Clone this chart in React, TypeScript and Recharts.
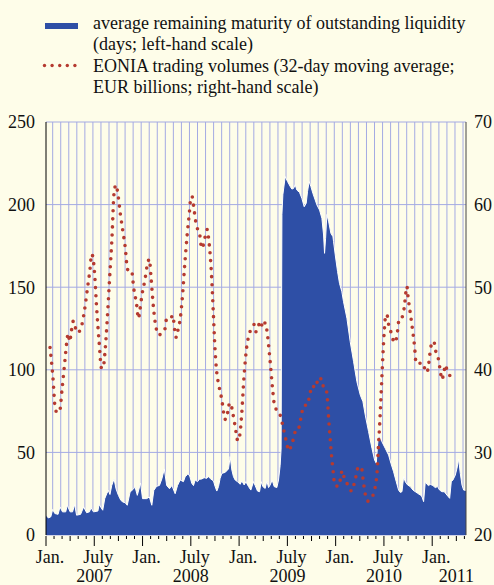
import { ComposedChart, Area, Line, XAxis, YAxis, CartesianGrid } from "recharts";

const W = 494;
const H = 585;
const X_MIN = 0;
const X_MAX = 52.2;
const BG = "#FEFDE9";
const GRID = "#A4AAE3";
const BLUE = "#2E4FA6";
const RED = "#B53A30";
const FONT = '"Liberation Serif", "Times New Roman", serif';

// months since 1 Jan 2007 -> average remaining maturity (days, left scale)
const maturity: [number, number][] = [
  [0, 12], [0.3, 10.3], [0.6, 11], [0.83, 15.5], [1.1, 13], [1.5, 12.5], [1.74, 17], [2.05, 14],
  [2.45, 14], [2.65, 18], [3.0, 14], [3.3, 14], [3.57, 18.5], [3.8, 12], [4.3, 12.5], [4.68, 17],
  [5.05, 13.5], [5.4, 14], [5.6, 16.5], [5.9, 14], [6.45, 14.5], [6.6, 18.5], [7.05, 15], [7.3, 22],
  [7.55, 25], [7.75, 27], [7.95, 24.5], [8.17, 30], [8.46, 34], [8.7, 28], [9.0, 24], [9.3, 21],
  [9.55, 20], [9.85, 19.5], [10.1, 18], [10.45, 26], [10.8, 27.5], [11.07, 29], [11.35, 24],
  [11.75, 31.5], [12.0, 22], [12.5, 22], [12.85, 23], [13.15, 18], [13.4, 27], [13.75, 29.5],
  [14.1, 30], [14.4, 34], [14.7, 40], [15.0, 30], [15.35, 28], [15.65, 30], [16.05, 25], [16.35, 30],
  [16.67, 33.3], [17.08, 32.3], [17.3, 35.3], [17.6, 36.7], [17.83, 36.3], [18.12, 31.3],
  [18.33, 29.9], [18.54, 33.3], [18.83, 32.3], [19.07, 33.7], [19.36, 33.9], [19.65, 34.7],
  [19.99, 34.3], [20.19, 35.3], [20.48, 33.9], [20.82, 32.7], [21.02, 29.3], [21.23, 26.6],
  [21.44, 29.3], [21.64, 34.3], [21.85, 37.3], [22.27, 37.9], [22.68, 40], [22.89, 47.5],
  [23.1, 39.3], [23.3, 35.3], [23.51, 33.3], [23.8, 32.3], [24.13, 30.7], [24.34, 32.7],
  [24.63, 30.3], [24.84, 32.3], [25.17, 29.3], [25.46, 27.2], [25.79, 32.3], [26.0, 29.9],
  [26.29, 26.6], [26.54, 26.2], [26.74, 32.3], [26.95, 29.3], [27.24, 28.2], [27.45, 32.7],
  [27.66, 28.7], [27.86, 30.3], [28.11, 33.3], [28.36, 29.3], [28.69, 28.7], [28.9, 33.3],
  [29.1, 42], [29.22, 52], [29.32, 194], [29.44, 206], [29.73, 217], [30.02, 214], [30.35, 211],
  [30.56, 209.4], [30.77, 209.8], [30.97, 212], [31.18, 208.8], [31.51, 207.4], [31.8, 203.8],
  [32.09, 198.7], [32.34, 200.8], [32.5, 207.8], [32.71, 214], [32.92, 211], [33.17, 206.8],
  [33.46, 202.8], [33.67, 199.8], [34.0, 196.7], [34.29, 191.7], [34.5, 181.6], [34.62, 170.5],
  [34.75, 179.6], [34.91, 194], [35.12, 190], [35.41, 182.6], [35.66, 180.6], [35.74, 177.6],
  [35.95, 169.5], [36.24, 159.4], [36.48, 152.3], [36.77, 147.3], [36.98, 141.2], [37.4, 131.2],
  [37.81, 117], [38.23, 104.9], [38.64, 92.8], [39.06, 84.7], [39.39, 80.7], [39.68, 72.6],
  [40.09, 62.6], [40.51, 52.5], [40.84, 45.4], [41.05, 43.4], [41.21, 54.5], [41.34, 60.5],
  [41.75, 56.5], [42.16, 52.5], [42.58, 48.4], [42.87, 43.4], [43.2, 38.3], [43.53, 32.3],
  [43.82, 27.2], [44.03, 25.8], [44.24, 26.2], [44.45, 35.3], [44.65, 32.3], [44.94, 30.3],
  [45.27, 29.3], [45.61, 27.2], [45.9, 26.2], [46.19, 25.2], [46.52, 24.2], [46.73, 23.2],
  [46.93, 20.2], [47.14, 32.3], [47.35, 30.7], [47.55, 29.9], [47.76, 30.7], [48.09, 29.9],
  [48.38, 28.7], [48.67, 29.3], [48.92, 27.2], [49.21, 26.2], [49.5, 26.2], [49.83, 24.2],
  [50.17, 22.2], [50.37, 32.3], [50.58, 33.3], [50.87, 36.3], [51.08, 40.4], [51.29, 46],
  [51.49, 37.3], [51.7, 30.3], [51.91, 27.2], [52.2, 27],
];

// months since 1 Jan 2007 -> EONIA trading volumes (EUR bn, right scale)
const eonia: [number, number][] = [
  [0.5, 42.7], [0.85, 39.2], [1.15, 35.3], [1.4, 34.8], [1.7, 35.0], [2.0, 37.7], [2.3, 40.6],
  [2.6, 43.5], [2.75, 44.4], [2.95, 43.4], [3.1, 44.3], [3.4, 45.9], [3.6, 45.3], [3.85, 44.5],
  [4.1, 44.6], [4.45, 45.4], [4.8, 47.3], [5.2, 50.2], [5.45, 52.0], [5.68, 54.0], [5.85, 53.5],
  [6.05, 51.5], [6.3, 47.4], [6.6, 43.4], [6.9, 40.2], [7.1, 40.2], [7.3, 41.8], [7.6, 45.9],
  [7.9, 51.0], [8.2, 56.0], [8.45, 61.3], [8.7, 62.4], [8.9, 61.5], [9.25, 58.8], [9.55, 56.8],
  [9.85, 54.8], [10.1, 52.3], [10.3, 51.9], [10.65, 51.9], [10.9, 49.9], [11.25, 48.0],
  [11.5, 46.2], [11.65, 47.1], [11.95, 49.2], [12.3, 50.9], [12.55, 52.5], [12.85, 53.4],
  [13.05, 51.2], [13.35, 47.6], [13.7, 45.0], [14.05, 44.2], [14.4, 44.5], [14.75, 44.8],
  [14.95, 46.0], [15.4, 46.0], [15.75, 46.6], [16.0, 44.8], [16.2, 43.9], [16.4, 44.8],
  [16.7, 46.3], [16.95, 48.8], [17.25, 52.8], [17.55, 56.4], [17.8, 58.8], [18.0, 60.8],
  [18.15, 61.0], [18.35, 59.8], [18.6, 58.0], [18.85, 57.0], [19.1, 56.4], [19.35, 54.7],
  [19.55, 55.1], [19.8, 56.2], [20.05, 57.0], [20.2, 56.0], [20.4, 54.0], [20.6, 51.0],
  [20.8, 46.8], [21.0, 42.6], [21.2, 39.9], [21.4, 38.5], [21.75, 36.9], [22.0, 35.4],
  [22.2, 34.0], [22.45, 34.0], [22.6, 35.0], [22.8, 35.9], [22.95, 36.0], [23.15, 35.1],
  [23.5, 33.2], [23.85, 31.4], [24.1, 32.2], [24.3, 34.3], [24.6, 39.0], [24.95, 42.8],
  [25.2, 44.1], [25.6, 45.1], [25.9, 45.5], [26.1, 44.6], [26.4, 45.3], [26.65, 45.9],
  [26.95, 45.1], [27.25, 45.7], [27.45, 44.8], [27.85, 41.1], [28.2, 37.3], [28.45, 35.4],
  [28.9, 35.0], [29.2, 34.2], [29.5, 32.9], [29.9, 31.2], [30.15, 30.2], [30.55, 31.0],
  [30.85, 32.0], [31.1, 33.0], [31.4, 33.0], [31.8, 34.8], [32.05, 35.7], [32.45, 35.7],
  [32.85, 37.3], [33.1, 38.1], [33.45, 37.8], [33.8, 38.8], [34.1, 39.1], [34.3, 38.1],
  [34.7, 38.0], [34.95, 36.8], [35.1, 34.5], [35.3, 31.9], [35.5, 29.5], [35.7, 27.6],
  [35.9, 26.0], [36.35, 25.9], [36.6, 26.8], [36.8, 27.8], [37.1, 26.8], [37.5, 26.1],
  [38.0, 25.3], [38.3, 26.2], [38.55, 27.2], [38.8, 28.2], [39.2, 28.2], [39.4, 26.8],
  [39.65, 25.1], [40.0, 24.1], [40.4, 24.4], [40.8, 25.3], [41.0, 26.3], [41.15, 27.6],
  [41.3, 30.5], [41.45, 33.0], [41.6, 36.0], [41.75, 39.2], [41.9, 42.3], [42.05, 44.8],
  [42.25, 46.7], [42.5, 46.3], [42.6, 45.3], [42.9, 44.5], [43.15, 43.6], [43.4, 43.3],
  [43.65, 44.4], [43.9, 46.2], [44.35, 46.5], [44.6, 48.2], [44.85, 50.1], [45.0, 48.8],
  [45.3, 46.7], [45.55, 44.9], [45.8, 42.9], [46.0, 40.8], [46.4, 40.8], [46.9, 40.8],
  [47.15, 39.8], [47.35, 39.7], [47.55, 40.6], [47.8, 42.6], [48.05, 43.4], [48.2, 43.4],
  [48.45, 42.2], [48.75, 41.4], [49.0, 39.9], [49.2, 38.8], [49.45, 39.7], [49.65, 40.6],
  [49.85, 39.9], [50.25, 39.3], [51.1, 39.3],
];

// labels every six months (months 0, 6, ..., 48), years under July
const halfYearLabels = ["Jan.", "July", "Jan.", "July", "Jan.", "July", "Jan.", "July", "Jan."];
const yearLabels: [number, string][] = [[6, "2007"], [18, "2008"], [30, "2009"], [42, "2010"], [51, "2011"]];
const leftTicks = [0, 50, 100, 150, 200, 250];
const rightTicks = [20, 30, 40, 50, 60, 70];
const monthTicks = Array.from({ length: 53 }, (_, i) => i);
const gridMonths = Array.from({ length: 52 }, (_, i) => i + 0.83);

const maturityData = maturity.map(([t, v]) => ({ t, v }));
const eoniaData = eonia.map(([t, v]) => ({ t, v }));

const textStyle = { fontFamily: FONT, fontSize: 18, fill: "#111" };

function MonthTick(props: any) {
  const { x, y, payload } = props;
  const m = payload.value as number;
  const major = m % 6 === 0;
  const len = major ? 10 : m % 3 === 0 ? 5 : 3;
  const halfMonth = 420 / (X_MAX - X_MIN) / 2;
  const label = major ? halfYearLabels[m / 6] : undefined;
  const year = yearLabels.find(([t]) => t === m);
  return (
    <g>
      <line x1={x} x2={x} y1={y + 1} y2={y + 1 + len} stroke="#000" strokeWidth={1} />
      {label && (
        <text x={x + halfMonth} y={y + 28} textAnchor="middle" {...textStyle}>
          {label}
        </text>
      )}
      {year && (
        <text x={x} y={y + 47} textAnchor="middle" {...textStyle}>
          {year[1]}
        </text>
      )}
    </g>
  );
}

export default function App() {
  return (
    <div style={{ position: "absolute", left: 0, top: 0, width: W, height: H, background: BG }}>
      <svg width={W} height={100} style={{ position: "absolute", left: 0, top: 0 }}>
        <rect x={45} y={23} width={33} height={6} fill={BLUE} />
        {[0, 1, 2, 3, 4].map((i) => (
          <circle key={i} cx={44.5 + i * 7.6} cy={65.5} r={1.7} fill={RED} />
        ))}
      </svg>
      <div
        style={{
          position: "absolute",
          left: 93,
          top: 12.6,
          fontFamily: FONT,
          fontSize: 18,
          lineHeight: "21.6px",
          color: "#111",
          whiteSpace: "nowrap",
        }}
      >
        <div>average remaining maturity of outstanding liquidity</div>
        <div>(days; left-hand scale)</div>
        <div>EONIA trading volumes (32-day moving average;</div>
        <div>EUR billions; right-hand scale)</div>
      </div>
      <ComposedChart
        width={W}
        height={H}
        margin={{ top: 122, right: 0, bottom: 0, left: 0 }}
        style={{ position: "absolute", left: 0, top: 0 }}
      >
        <CartesianGrid
          stroke={GRID}
          strokeWidth={1}
          verticalCoordinatesGenerator={({ offset }: any) =>
            gridMonths.map((t) => offset.left + ((t - X_MIN) / (X_MAX - X_MIN)) * offset.width)
          }
        />
        <XAxis
          type="number"
          dataKey="t"
          domain={[X_MIN, X_MAX]}
          allowDataOverflow
          ticks={monthTicks}
          interval={0}
          height={50}
          tickSize={0}
          tickMargin={0}
          tickLine={false}
          axisLine={false}
          tick={<MonthTick />}
        />
        <YAxis
          domain={[0, 250]}
          ticks={leftTicks}
          width={46}
          tickSize={0}
          tickMargin={11}
          tickLine={false}
          axisLine={{ stroke: "#000" }}
          tick={textStyle}
        />
        <YAxis
          yAxisId="right"
          orientation="right"
          domain={[20, 70]}
          ticks={rightTicks}
          width={28}
          tickSize={0}
          tickMargin={8}
          tickLine={false}
          axisLine={{ stroke: "#444" }}
          tick={{ ...textStyle, textAnchor: "start" }}
        />
        <Area
          data={maturityData}
          dataKey="v"
          type="linear"
          fill={BLUE}
          fillOpacity={1}
          stroke="#FFFFFF"
          strokeWidth={1}
          baseValue={0}
          isAnimationActive={false}
        />
        <Line
          data={eoniaData}
          dataKey="v"
          yAxisId="right"
          type="monotone"
          stroke={RED}
          strokeWidth={3.6}
          strokeDasharray="0 8"
          strokeLinecap="round"
          dot={false}
          activeDot={false}
          isAnimationActive={false}
        />
      </ComposedChart>
    </div>
  );
}
